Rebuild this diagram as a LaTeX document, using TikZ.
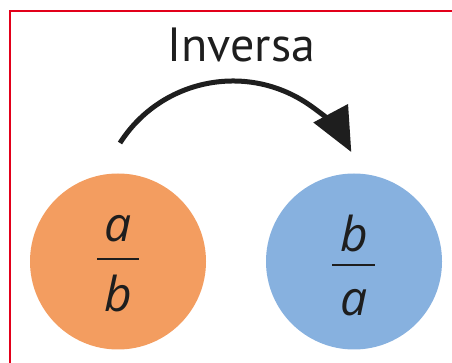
\documentclass[tikz,border=0pt]{standalone}
\usepackage{fontspec}
\setmainfont{Open Sans}
\newfontfamily\titlefont{PT Sans}
\usetikzlibrary{arrows.meta}
\definecolor{frameRed}{RGB}{226,0,26}
\definecolor{discOrange}{RGB}{243,157,96}
\definecolor{discBlue}{RGB}{135,177,223}
\definecolor{inkDark}{RGB}{30,30,30}
\begin{document}
\begin{tikzpicture}[x=1pt,y=1pt,
  disc/.style={circle,minimum size=176pt,inner sep=0pt},
  letter/.style={anchor=base,inner sep=0pt,font=\fontsize{48}{48}\selectfont\itshape,text=inkDark},
  fracbar/.style={draw=inkDark,line width=1.5pt},
  frameline/.style={draw=frameRed,line width=2.5pt}]
\useasboundingbox (0,0) rectangle (452,363);
\draw[frameline] (10,0) -- (10,352) -- (460,352);
\node[disc,fill=discOrange] (left) at (118,101.5) {};
\node[disc,fill=discBlue] (right) at (354,101.5) {};
\node[letter] (la) at (118,121) {a};
\node[letter] (lb) at (118,51) {b};
\draw[fracbar] (97,104) -- (139,104);
\node[letter] (rb) at (354,111) {b};
\node[letter] (ra) at (354,47) {a};
\draw[fracbar] (332,98) -- (375,98);
\node[anchor=base,inner sep=0pt,font=\titlefont\fontsize{48}{48}\selectfont,text=inkDark] (title) at (241.5,301) {Inversa};
\coordinate (arcstart) at ({233+134*cos(147.5)},{148+134*sin(147.5)});
\draw[line width=5pt,draw=inkDark,-{Triangle[length=44pt,width=38pt]}] (arcstart) arc[start angle=147.5,end angle=28,radius=134];
\end{tikzpicture}
\end{document}
